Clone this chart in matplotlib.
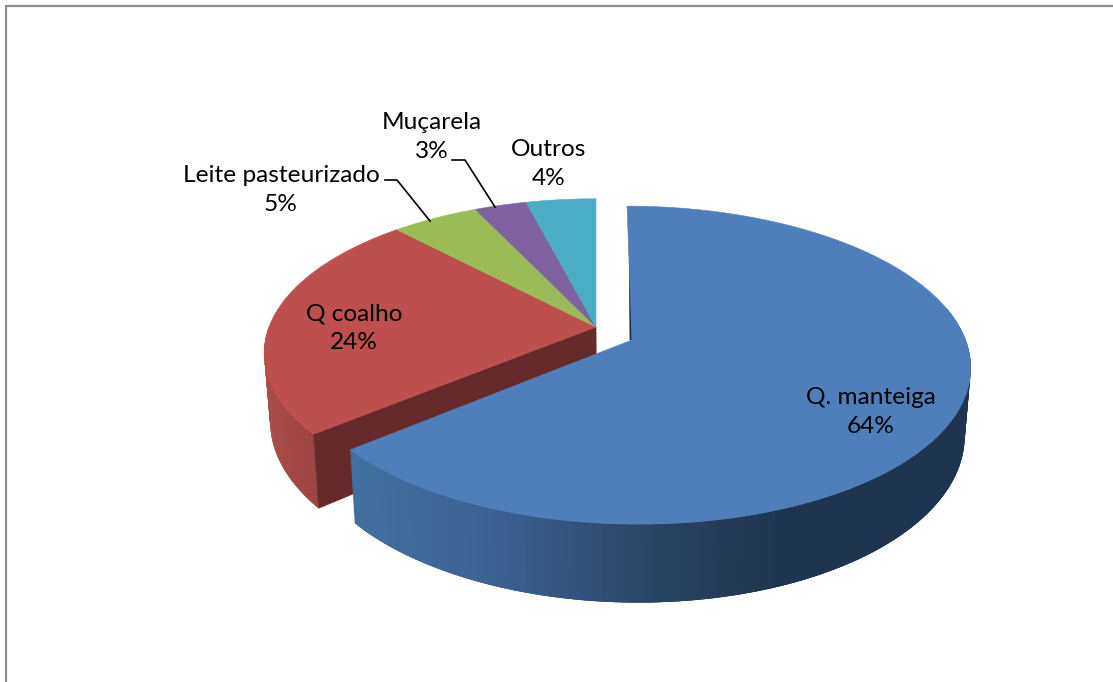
import numpy as np
import matplotlib
matplotlib.use("Agg")
import matplotlib.pyplot as plt
from matplotlib.colors import to_rgb
from matplotlib.patches import Polygon
from matplotlib.collections import PolyCollection

categories = ["Q. manteiga", "Q coalho", "Leite pasteurizado", "Muçarela", "Outros"]
values = [64, 24, 5, 3, 4]
colors = ["#4e7fbb", "#bd4f4c", "#9bbb59", "#7f63a1", "#4aacc5"]

W, H = 1113, 682
CX, CY = 596, 327
SX, SY, K = 327, 150, 0.17
DEPTH, XC, XSHRINK = 66, 617, 0.983
EX, EDY, ER, E_SY, E_K = 0.11, 13, 1.02, 152, 0.155

plt.rcParams["font.family"] = ["Lato", "DejaVu Sans"]
fig = plt.figure(figsize=(W / 100, H / 100), dpi=100)
ax = fig.add_axes([0, 0, 1, 1])
ax.set_xlim(0, W)
ax.set_ylim(H, 0)
ax.axis("off")


def project(t, r=1.0, ex=0.0, dy=0.0, low=False, sy=SY, k=K):
    t = np.radians(np.asarray(t, dtype=float))
    X, Y = r * np.cos(t) + ex, r * np.sin(t)
    den = 1 + k * Y
    x = CX + SX * X / den
    y = CY + dy - sy * Y / den
    if low:
        x = XC + XSHRINK * (x - XC)
        y = y + DEPTH / den
    return np.column_stack([x, y])


def sector(a0, a1, **kw):
    ts = np.linspace(a0, a1, 240)
    apex = project([90], **{**kw, "r": 0})
    return np.vstack([apex, project(ts, **kw)])


def wall(a0, a1, color_of, z=1, **kw):
    # overlapping facets, painted in order, so that no seams show
    ts = np.linspace(a0, a1, 160)
    up = project(ts, **kw)
    lo = project(ts, low=True, **kw)
    polys, cols = [], []
    for i in range(len(ts) - 1):
        j = min(i + 3, len(ts) - 1)
        polys.append(np.vstack([up[i:j + 1], lo[i:j + 1][::-1]]))
        cols.append(color_of((up[i, 0] + up[i + 1, 0]) / 2))
    ax.add_collection(PolyCollection(polys, facecolors=cols, edgecolors="none",
                                     zorder=z))


def ramp(stops):
    xs = [s[0] for s in stops]
    rgb = np.array([to_rgb(s[1]) for s in stops])
    return lambda x: tuple(np.interp(x, xs, rgb[:, i]) for i in range(3))


# slice angles, clockwise from 12 o'clock
edges = 90 - np.cumsum([0] + values) * 3.6
a = [(edges[i], edges[i + 1]) for i in range(len(values))]
blue_kw = dict(r=ER, ex=EX, dy=EDY, sy=E_SY, k=E_K)

# red slice: outer wall and cut face
wall(a[1][0], -180, ramp([(265, "#a84c49"), (312, "#9c4542")]), z=1)
cut = np.vstack([project([90], 0), project([a[1][0]]),
                 project([a[1][0]], low=True), project([90], 0, low=True)])
ax.add_patch(Polygon(cut, closed=True, fc="#672a2a", ec="#672a2a", lw=0.5, zorder=2))

# flat tops of the unexploded slices
for i in range(1, len(values)):
    ax.add_patch(Polygon(sector(a[i][0], a[i][1]), closed=True, fc=colors[i],
                         ec=colors[i], lw=0.4, zorder=3))

# exploded slice: inner sliver, outer wall, top
back = project([90], **blue_kw)
apex_b = project([90], **{**blue_kw, "r": 0})
sliver = np.vstack([apex_b, apex_b + [-2.0, 0], back + [2.0, 30], back + [3.0, 30]])
ax.add_patch(Polygon(sliver, closed=True, fc="#1f344e", ec="#1f344e", lw=0.5, zorder=4))
wall(a[0][1], 12,
     ramp([(350, "#41709f"), (500, "#3b6192"), (650, "#2a4566"),
           (790, "#1f344e"), (970, "#1f344e")]),
     z=5, **blue_kw)
ax.add_patch(Polygon(sector(a[0][0], a[0][1], **blue_kw), closed=True,
                     fc=colors[0], ec=colors[0], lw=0.4, zorder=6))

# chart frame (open at right and bottom)
ax.plot([6, 6, W], [H, 6, 6], color="#8c8c8c", lw=1.6, solid_joinstyle="miter",
        solid_capstyle="butt", zorder=0)

# leader lines
ax.plot([385, 397, 430], [180, 180, 221], color="black", lw=1.2, zorder=7)
ax.plot([452, 465, 495], [160, 160, 207], color="black", lw=1.2, zorder=7)

# data labels
label_xy = [(871, 412), (354, 328), (281, 190), (432, 137), (549, 164)]
for name, v, (x, y) in zip(categories, values, label_xy):
    ax.text(x, y, f"{name}\n{v}%", ha="center", va="center", fontsize=17.6,
            color="black", linespacing=1.47, zorder=8)

fig.savefig("out.png", dpi=100)
